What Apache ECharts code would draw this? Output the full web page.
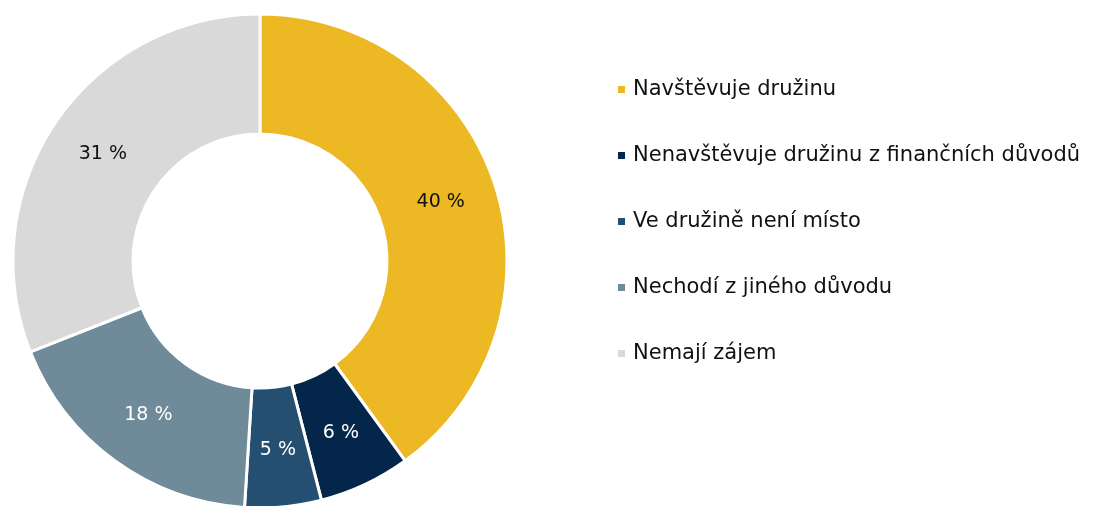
<!DOCTYPE html>
<html>
<head>
<meta charset="utf-8">
<script src="https://cdn.jsdelivr.net/npm/echarts@6/dist/echarts.min.js"></script>
<style>
  html, body { margin: 0; padding: 0; background: #fff; }
  #chart { width: 1097px; height: 506px; }
</style>
</head>
<body>
<div id="chart"></div>
<script>
const categories = [
  'Navštěvuje družinu',
  'Nenavštěvuje družinu z finančních důvodů',
  'Ve družině není místo',
  'Nechodí z jiného důvodu',
  'Nemají zájem'
]
const values = [40, 6, 5, 18, 31]
const colors = ['#ECB823', '#03264A', '#254F70', '#6F8A99', '#D9D9D9']
const labelColors = ['#111', '#fff', '#fff', '#fff', '#111']

const chart = echarts.init(document.getElementById('chart'))

const option = {
  backgroundColor: '#fff',
  animation: false,
  legend: {
    orient: 'vertical',
    left: 616,
    top: 79,
    padding: 0,
    icon: 'rect',
    itemWidth: 9,
    itemHeight: 9,
    itemGap: 45,
    textStyle: { fontSize: 21, color: '#111', fontFamily: 'DejaVu Sans', lineHeight: 21, padding: [0, 0, 0, 2] },
    data: categories
  },
  series: [
    {
      type: 'pie',
      center: [260, 261],
      radius: [127, 247],
      startAngle: 90,
      clockwise: true,
      itemStyle: { borderColor: '#fff', borderWidth: 3 },
      label: {
        show: true,
        position: 'inside',
        fontSize: 19,
        fontFamily: 'DejaVu Sans',
        formatter: p => p.value + ' %'
      },
      labelLine: { show: false },
      emphasis: { disabled: true },
      data: categories.map((name, i) => ({
        name,
        value: values[i],
        itemStyle: { color: colors[i] },
        label: { color: labelColors[i] }
      }))
    }
  ]
}

chart.setOption(option)
</script>
</body>
</html>
